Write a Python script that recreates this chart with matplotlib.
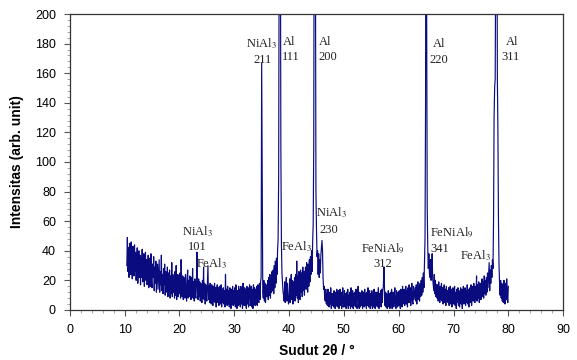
import matplotlib
matplotlib.use("Agg")
import matplotlib.pyplot as plt
from matplotlib.ticker import MultipleLocator
import numpy as np

# pola XRD, langkah 0.1 derajat mulai 10.4
start_2theta = 10.4
step_2theta = 0.1
intensity = [
    30, 49, 26, 42, 22, 45,                      # 10.4-10.9
    38, 24, 46, 27, 21, 43, 35, 23, 44, 26,      # 11
    39, 20, 34, 42, 18, 32, 40, 22, 37, 17,      # 12
    35, 22, 41, 19, 31, 38, 16, 30, 39, 20,      # 13
    34, 17, 29, 37, 15, 28, 35, 16, 38, 19,      # 14
    15, 31, 22, 36, 13, 29, 18, 33, 12, 27,      # 15
    31, 14, 25, 34, 12, 26, 17, 37, 13, 24,      # 16
    11, 28, 17, 31, 10, 26, 15, 12, 29, 9,       # 17
    25, 13, 27, 8, 23, 11, 32, 9, 24, 12,        # 18
    22, 8, 26, 10, 30, 7, 21, 24, 9, 23,         # 19
    11, 25, 8, 34, 20, 9, 23, 7, 22, 10,         # 20
    8, 24, 12, 6, 21, 27, 8, 20, 9, 23,          # 21
    18, 7, 22, 9, 28, 8, 19, 6, 21, 10,          # 22
    8, 20, 39, 10, 7, 21, 9, 19, 6, 18,          # 23
    9, 5, 20, 8, 29, 7, 18, 4, 17, 8,            # 24
    6, 19, 30, 7, 16, 5, 18, 8, 4, 17,           # 25
    7, 3, 16, 6, 18, 5, 15, 2, 14, 17,           # 26
    5, 15, 3, 16, 6, 4, 17, 2, 14, 5,            # 27
    15, 4, 13, 2, 24, 5, 14, 3, 16, 4,           # 28
    13, 2, 15, 5, 1, 14, 4, 16, 3, 13,           # 29
    4, 15, 2, 17, 5, 1, 13, 3, 16, 4,            # 30
    14, 2, 16, 4, 15, 1, 18, 5, 3, 15,           # 31
    3, 14, 1, 16, 4, 15, 2, 13, 17, 3,           # 32
    5, 16, 2, 14, 1, 17, 4, 15, 3, 14,           # 33
    4, 16, 3, 17, 6, 5, 18, 7, 19, 22,           # 34
    167, 92, 12, 8, 20, 6, 18, 5, 17, 9,         # 35
    10, 20, 7, 22, 10, 24, 8, 21, 12, 26,        # 36
    13, 27, 11, 30, 15, 33, 18, 35, 24, 40,      # 37
    48, 90, 260, 450, 300, 110, 45, 25, 18, 12,  # 38
    10, 6, 19, 5, 16, 22, 6, 18, 8, 4,           # 39
    9, 21, 5, 17, 24, 7, 20, 4, 19, 8,           # 40
    22, 6, 24, 10, 33, 8, 23, 5, 26, 11,         # 41
    7, 27, 12, 25, 9, 29, 13, 26, 10, 24,        # 42
    29, 14, 32, 17, 12, 31, 16, 34, 19, 36,      # 43
    24, 40, 26, 46, 58, 110, 320, 480, 260, 80,  # 44
    55, 36, 40, 24, 38, 22, 34, 25, 37, 42,      # 45
    47, 40, 22, 14, 16, 8, 6, 14, 4, 11,         # 46
    3, 14, 5, 2, 12, 4, 15, 1, 11, 3,            # 47
    11, 2, 13, 4, 1, 12, 3, 14, 2, 10,           # 48
    13, 1, 9, 14, 3, 12, 1, 10, 15, 2,           # 49
    4, 13, 2, 11, 1, 12, 3, 14, 1, 10,           # 50
    3, 12, 1, 15, 4, 2, 13, 1, 11, 3,            # 51
    12, 2, 14, 4, 1, 11, 16, 3, 1, 12,           # 52
    2, 11, 3, 13, 1, 10, 12, 2, 14, 3,           # 53
    11, 1, 12, 3, 15, 2, 10, 13, 1, 11,          # 54
    3, 13, 1, 11, 2, 14, 4, 1, 12, 3,            # 55
    12, 2, 10, 15, 1, 11, 3, 13, 2, 14,          # 56
    5, 13, 16, 29, 15, 3, 12, 2, 11, 1,          # 57
    4, 13, 2, 11, 1, 12, 3, 14, 1, 10,           # 58
    12, 2, 11, 15, 3, 1, 13, 4, 2, 12,           # 59
    3, 13, 4, 1, 14, 5, 2, 16, 4, 12,            # 60
    14, 3, 12, 16, 4, 13, 2, 15, 5, 17,          # 61
    5, 15, 3, 13, 18, 6, 4, 16, 7, 11,           # 62
    15, 6, 17, 4, 14, 19, 7, 16, 6, 18,          # 63
    9, 20, 10, 22, 12, 25, 15, 30, 48, 140,      # 64
    480, 200, 70, 42, 28, 38, 25, 22, 34, 20,    # 65
    24, 38, 21, 17, 13, 24, 11, 20, 9, 17,       # 66
    8, 17, 6, 19, 9, 5, 16, 7, 18, 6,            # 67
    15, 4, 13, 17, 5, 14, 3, 16, 6, 13,          # 68
    5, 15, 3, 13, 16, 4, 14, 2, 12, 15,          # 69
    4, 13, 16, 3, 12, 1, 14, 5, 15, 3,           # 70
    13, 2, 11, 15, 4, 14, 1, 12, 16, 4,          # 71
    6, 15, 3, 13, 5, 17, 4, 14, 2, 13,           # 72
    15, 5, 17, 3, 13, 16, 6, 18, 8, 5,           # 73
    16, 7, 23, 6, 17, 8, 19, 5, 15, 18,          # 74
    7, 17, 21, 9, 19, 8, 23, 11, 20, 10,         # 75
    22, 12, 25, 15, 24, 32, 13, 27, 18, 30,      # 76
    22, 34, 28, 60, 130, 150, 156, 240, 420, 300,  # 77
    156, 120, 60, 30, 18, 10, 20, 8, 18, 6,      # 78
    17, 5, 20, 8, 4, 18, 7, 21, 9, 5,            # 79
    16,                                          # 80.0
]
two_theta = np.round(start_2theta + step_2theta * np.arange(len(intensity)), 1)

# label puncak: (x, y, teks)
peak_labels = [
    (34.9, 180, "NiAl$_3$"), (35.1, 169, "211"),
    (40.0, 181, "Al"), (40.25, 171, "111"),
    (46.6, 181, "Al"), (47.0, 171, "200"),
    (67.4, 180, "Al"), (67.3, 169, "220"),
    (80.7, 181, "Al"), (80.4, 171, "311"),
    (23.2, 53, "NiAl$_3$"), (23.2, 42.5, "101"),
    (25.9, 31, "FeAl$_3$"),
    (41.4, 43, "FeAl$_3$"),
    (47.8, 65.5, "NiAl$_3$"), (47.2, 54, "230"),
    (57.1, 41, "FeNiAl$_9$"), (57.1, 31, "312"),
    (69.7, 52, "FeNiAl$_9$"), (67.4, 41, "341"),
    (74.0, 37, "FeAl$_3$"),
]

plt.rcParams["mathtext.fontset"] = "stix"

fig = plt.figure(figsize=(5.77, 3.6), dpi=100)
ax = fig.add_axes([0.121, 0.139, 0.855, 0.822])

ax.plot(two_theta, intensity, color="#0b0b80", linewidth=0.85)

for x, y, t in peak_labels:
    ax.text(x, y, t, ha="center", va="center", fontsize=9,
            family="Liberation Serif", color="#222222")

ax.set_xlim(0, 90)
ax.set_ylim(0, 200)
ax.xaxis.set_major_locator(MultipleLocator(10))
ax.xaxis.set_minor_locator(MultipleLocator(2))
ax.yaxis.set_major_locator(MultipleLocator(20))
ax.yaxis.set_minor_locator(MultipleLocator(4))
ax.tick_params(which="major", direction="out", length=4, width=0.8,
               color="#555555", labelsize=9, pad=6)
ax.tick_params(which="minor", direction="out", length=2.5, width=0.6,
               color="#999999")
for lab in ax.get_xticklabels() + ax.get_yticklabels():
    lab.set_family("Liberation Sans")
for s in ax.spines.values():
    s.set_color("#333333")
    s.set_linewidth(0.9)

ax.set_xlabel("Sudut 2θ / °", fontsize=10, fontweight="bold",
              family="Liberation Sans", labelpad=6)
ax.set_ylabel("Intensitas (arb. unit)", fontsize=10, fontweight="bold",
              family="Liberation Sans", labelpad=8)

fig.savefig("out.png", dpi=100)
